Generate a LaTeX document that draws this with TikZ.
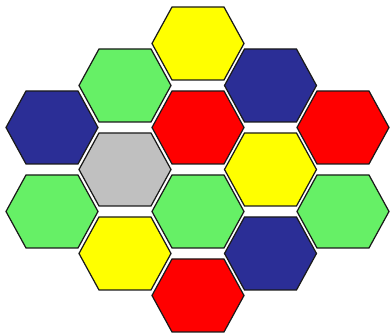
\documentclass[tikz,border=0pt]{standalone}
\definecolor{hexInk}{HTML}{1A1A1A}
\definecolor{hexYellow}{HTML}{FFFF00}
\definecolor{hexGreen}{HTML}{66F066}
\definecolor{hexBlue}{HTML}{2B2E96}
\definecolor{hexRed}{HTML}{FF0000}
\definecolor{hexGray}{HTML}{C0C0C0}
\tikzset{
  hex/cell/.style={draw=hexInk, line width=0.7pt, line join=miter},
}

\begin{document}
\begin{tikzpicture}[x=0.02cm, y=-0.02cm]
\useasboundingbox (0,0) rectangle (390,333);

% Flat-topped cells, listed column by column: x / y / fill.
\foreach \cx/\cy/\cfill in {
    52/127.5/hexBlue, 52/211.5/hexGreen,
    125/85.5/hexGreen, 125/169.5/hexGray, 125/253.5/hexYellow,
    198/43.5/hexYellow, 198/127.5/hexRed, 198/211.5/hexGreen, 198/295.5/hexRed,
    270.5/85.5/hexBlue, 270.5/169.5/hexYellow, 270.5/253.5/hexBlue,
    343/127.5/hexRed, 343/211.5/hexGreen} {
    \filldraw[hex/cell, fill=\cfill] (\cx-46,\cy) -- ++(20,-36.5) -- ++(52,0)
        -- ++(20,36.5) -- ++(-20,36.5) -- ++(-52,0) -- cycle;
}
\end{tikzpicture}
\end{document}
